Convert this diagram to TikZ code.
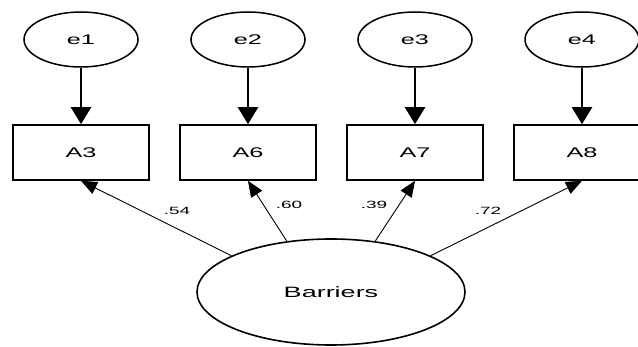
\documentclass[tikz,border=0pt]{standalone}
\usepackage{fontspec}
\setmainfont{Liberation Sans}[FakeStretch=1.8]
\usetikzlibrary{arrows.meta,shapes.geometric}
\begin{document}
\begin{tikzpicture}[x=1pt,y=-1pt,
  errnode/.style={draw,ellipse,line width=1.5pt,minimum width=114pt,minimum height=55pt,inner sep=0pt,font=\fontsize{14}{16}\selectfont},
  obsnode/.style={draw,rectangle,line width=1.6pt,minimum width=136pt,minimum height=55pt,inner sep=0pt,font=\fontsize{14}{16}\selectfont},
  latnode/.style={draw,ellipse,line width=1.6pt,minimum width=268pt,minimum height=106pt,inner sep=0pt,font=\fontsize{15}{17}\selectfont},
  thickarrow/.style={line width=2.4pt,-{Triangle[length=17pt,width=20pt]}},
  thinarrow/.style={line width=0.9pt,-{Triangle[length=16pt,width=13pt]}},
  coef/.style={inner sep=0pt,font=\fontsize{10.5}{12}\selectfont}]
\useasboundingbox (0,0) rectangle (638,347);
\fill[white] (0,0) rectangle (638,347);
\begin{scope}
\clip (0,0) rectangle (638,347);
\node[errnode] (e1) at (81,39.5) {e1};
\node[errnode] (e2) at (248,39.5) {e2};
\node[errnode] (e3) at (415,39.5) {e3};
\node[errnode] (e4) at (582,39.5) {e4};
\node[obsnode] (A3) at (81,152.5) {A3};
\node[obsnode] (A6) at (248,152.5) {A6};
\node[obsnode] (A7) at (415,152.5) {A7};
\node[obsnode] (A8) at (582,152.5) {A8};
\node[latnode] (B) at (331,292) {Barriers};
\draw[thickarrow] (e1) -- (A3);
\draw[thickarrow] (e2) -- (A6);
\draw[thickarrow] (e3) -- (A7);
\draw[thickarrow] (e4) -- (A8);
\draw[thinarrow] (B.160) -- (A3.south);
\draw[thinarrow] (B.131) -- (A6.south);
\draw[thinarrow] (B.49) -- (A7.south);
\draw[thinarrow] (B.20) -- (A8.south);
\node[coef] (c1) at (177,211) {.54};
\node[coef] (c2) at (289,205) {.60};
\node[coef] (c3) at (374,205) {.39};
\node[coef] (c4) at (488,211) {.72};
\end{scope}
\end{tikzpicture}
\end{document}
